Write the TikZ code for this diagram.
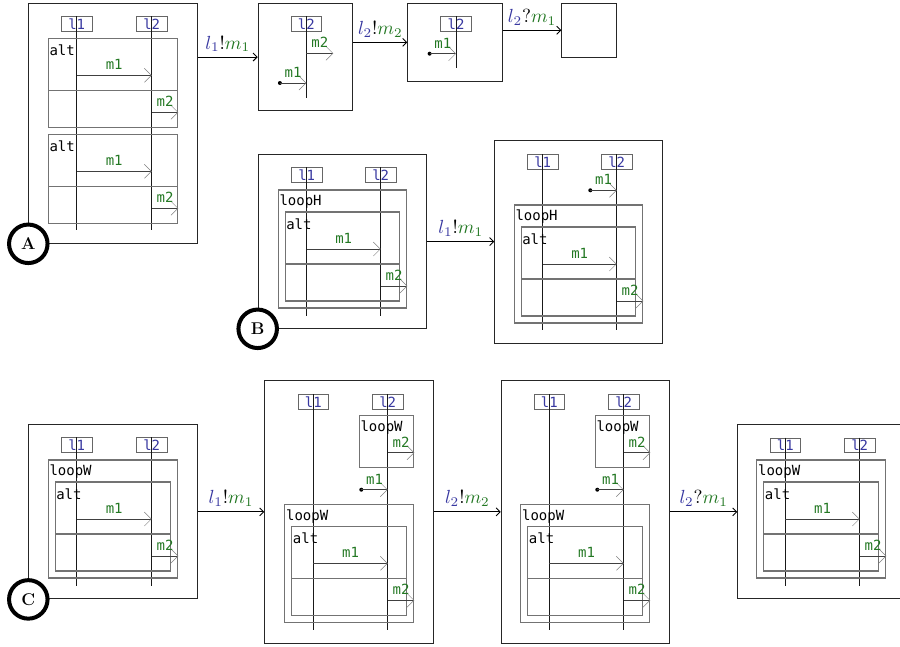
\documentclass[tikz,border=0pt]{standalone}
\usepackage{fontspec}
\usepackage{graphicx}
\setmonofont{DejaVu Sans Mono}
\usetikzlibrary{arrows.meta,calc}
\definecolor{lblue}{RGB}{55,55,160}
\definecolor{mgreen}{RGB}{35,120,35}
\newcommand\monof{\ttfamily\fontsize{14}{16}\selectfont}
\newcommand\lab[3]{\scalebox{1.9}{$\textcolor{lblue}{l_{#1}}#2\textcolor{mgreen}{m_{#3}}$}}
\tikzset{
  state/.style={draw=black!85, line width=1.1pt, fill=white, inner sep=0pt},
  frm/.style={draw=black!55, line width=1.1pt},
  life/.style={draw=black!90, line width=0.7pt},
  lbox/.style={draw=black!60, line width=0.8pt, fill=white, minimum width=30.5pt, minimum height=14.5pt, inner sep=0pt, font=\monof, text=lblue},
  kw/.style={font=\monof, inner sep=0pt, text=black},
  msg/.style={draw=black!75, line width=0.7pt, -{Straight Barb[length=7pt,width=14pt,line width=0.5pt,color=black!50]}},
  mlab/.style={font=\monof, text=mgreen, anchor=base, yshift=5.5pt, inner sep=0pt},
  trans/.style={draw=black, line width=1pt, -{Straight Barb[length=4pt,width=8pt,line width=0.9pt]}},
  tlab/.style={anchor=base, yshift=8pt, inner sep=0pt},
  badge/.style={circle, draw=black, line width=4pt, fill=white, minimum size=38.5pt, inner sep=0pt, font=\bfseries\fontsize{17}{19}\selectfont}
}
% lifeline: name, x, top, end, label
\newcommand\lifeline[5]{%
  \node[lbox, anchor=north] (#1) at (#2,#3) {#5};
  \coordinate (#1-end) at (#2,#4);
  \draw[life] (#1.north) -- (#1-end);
}
% alt frame: name, x1, x2, top, l1x, l2x
\newcommand\altframe[6]{%
  \draw[frm] (#2,#4) rectangle (#3,{#4+89});
  \draw[frm] (#2,{#4+52}) -- (#3,{#4+52});
  \node[kw, anchor=north west] (#1) at ({#2+1},{#4+6.5}) {alt};
  \coordinate (#1-a) at (#5,{#4+37});
  \coordinate (#1-b) at (#6,{#4+37});
  \coordinate (#1-c) at (#6,{#4+74});
  \coordinate (#1-d) at ({#6+26.6},{#4+74});
  \draw[msg] (#1-a) -- node[mlab] (#1-m1) {m1} (#1-b);
  \draw[msg] (#1-c) -- node[mlab] (#1-m2) {m2} (#1-d);
}
% loop frame: name, l1x, l2x, top, label
\newcommand\loopframe[5]{%
  \draw[frm] ({#2-28.4},#4) rectangle ({#3+25.6},{#4+118});
  \node[kw, anchor=north west] (#1) at ({#2-27.4},{#4+5}) {#5};
  \altframe{#1-alt}{#2-21.6}{#3+19}{#4+22}{#2}{#3}
}
% small loop: name, l2x, top
\newcommand\smallloop[3]{%
  \draw[frm] ({#2-28.4},#3) rectangle ({#2+25.6},{#3+51.6});
  \node[kw, anchor=north west] (#1) at ({#2-27.4},{#3+5}) {loopW};
  \coordinate (#1-c) at (#2,{#3+37});
  \coordinate (#1-d) at ({#2+26.6},{#3+37});
  \draw[msg] (#1-c) -- node[mlab] (#1-m2) {m2} (#1-d);
}
% dot message: name, l2x, y
\newcommand\dotmsg[3]{%
  \coordinate (#1-s) at ({#2-26.4},#3);
  \coordinate (#1-e) at (#2,#3);
  \fill (#1-s) circle (2pt);
  \draw[msg] (#1-s) -- node[mlab] (#1-m) {m1} (#1-e);
}
\begin{document}
\begin{tikzpicture}[x=1pt,y=-1pt]
\useasboundingbox (0,0) rectangle (900,646);
\clip (0,0) rectangle (900,646);
% ---------- Row A ----------
\node[state, minimum width=168.4pt, minimum height=240pt, anchor=north west] (A) at (28.3,2.7) {};
\lifeline{A-l1}{76.7}{16}{230}{l1}
\lifeline{A-l2}{151.7}{16}{230}{l2}
\altframe{A-alt1}{48.3}{177.3}{38.3}{76.7}{151.7}
\altframe{A-alt2}{48.3}{177.3}{134.3}{76.7}{151.7}

\node[state, minimum width=94.6pt, minimum height=107.6pt, anchor=north west] (T2) at (257.7,2.7) {};
\lifeline{T2-l2}{306.3}{16}{97.7}{l2}
\coordinate (T2-c) at (306.3,53.3);
\coordinate (T2-d) at (333.3,53.3);
\draw[msg] (T2-c) -- node[mlab] (T2-m2) {m2} (T2-d);
\dotmsg{T2-d1}{306.3}{83}

\node[state, minimum width=94.4pt, minimum height=78.3pt, anchor=north west] (T3) at (407.3,2.7) {};
\lifeline{T3-l2}{456}{16}{68.3}{l2}
\dotmsg{T3-d1}{456}{53.7}

\node[state, minimum width=54.4pt, minimum height=54pt, anchor=north west] (T4) at (561.3,2.7) {};

\draw[trans] (A.east |- T2.west) -- node[tlab] (L1) {\lab{1}{!}{1}} (T2.west);
\draw[trans] (T2.east |- T3.west) -- node[tlab] (L2) {\lab{2}{!}{2}} (T3.west);
\draw[trans] (T3.east |- T4.west) -- node[tlab] (L3) {\lab{2}{?}{1}} (T4.west);

% ---------- Row B ----------
\node[state, minimum width=168.3pt, minimum height=173.4pt, anchor=north west] (B1) at (257.7,154.3) {};
\lifeline{B1-l1}{306.7}{167.3}{315.7}{l1}
\lifeline{B1-l2}{380.7}{167.3}{315.7}{l2}
\loopframe{B1-loop}{306.7}{380.7}{190}{loopH}

\node[state, minimum width=168pt, minimum height=202.7pt, anchor=north west] (B2) at (494.3,140) {};
\lifeline{B2-l1}{542.7}{154}{330}{l1}
\lifeline{B2-l2}{616.7}{154}{330}{l2}
\dotmsg{B2-d1}{616.7}{190.3}
\loopframe{B2-loop}{542.7}{616.7}{205}{loopH}

\draw[trans] (B1.east) -- node[tlab] (L4) {\lab{1}{!}{1}} (B1.east -| B2.west);

% ---------- Row C ----------
\node[state, minimum width=168.4pt, minimum height=174pt, anchor=north west] (C1) at (28.3,424.3) {};
\lifeline{C1-l1}{76.7}{437.3}{585.7}{l1}
\lifeline{C1-l2}{151.7}{437.3}{585.7}{l2}
\loopframe{C1-loop}{76.7}{151.7}{460}{loopW}

\node[state, minimum width=168.7pt, minimum height=262.7pt, anchor=north west] (C2) at (264.3,380) {};
\lifeline{C2-l1}{313.3}{394}{630}{l1}
\lifeline{C2-l2}{387.7}{394}{630}{l2}
\smallloop{C2-sl}{387.7}{415.7}
\dotmsg{C2-d1}{387.7}{489.7}
\loopframe{C2-loop}{313.3}{387.7}{504.3}{loopW}

\node[state, minimum width=168.3pt, minimum height=262.7pt, anchor=north west] (C3) at (500.7,380) {};
\lifeline{C3-l1}{549.3}{394}{630}{l1}
\lifeline{C3-l2}{623.7}{394}{630}{l2}
\smallloop{C3-sl}{623.7}{415.7}
\dotmsg{C3-d1}{623.7}{489.7}
\loopframe{C3-loop}{549.3}{623.7}{504.3}{loopW}

\node[state, minimum width=168.4pt, minimum height=174pt, anchor=north west] (C4) at (737.3,424.3) {};
\lifeline{C4-l1}{785.3}{437.7}{585.7}{l1}
\lifeline{C4-l2}{859.7}{437.7}{585.7}{l2}
\loopframe{C4-loop}{785.3}{859.7}{460}{loopW}

\draw[trans] (C1.east) -- node[tlab] (L5) {\lab{1}{!}{1}} (C1.east -| C2.west);
\draw[trans] (C2.east) -- node[tlab] (L6) {\lab{2}{!}{2}} (C2.east -| C3.west);
\draw[trans] (C3.east |- C4.west) -- node[tlab] (L7) {\lab{2}{?}{1}} (C4.west);

% ---------- badges ----------
\node[badge] (bA) at (A.south west) {A};
\node[badge] (bB) at (B1.south west) {B};
\node[badge] (bC) at (C1.south west) {C};
\end{tikzpicture}
\end{document}
